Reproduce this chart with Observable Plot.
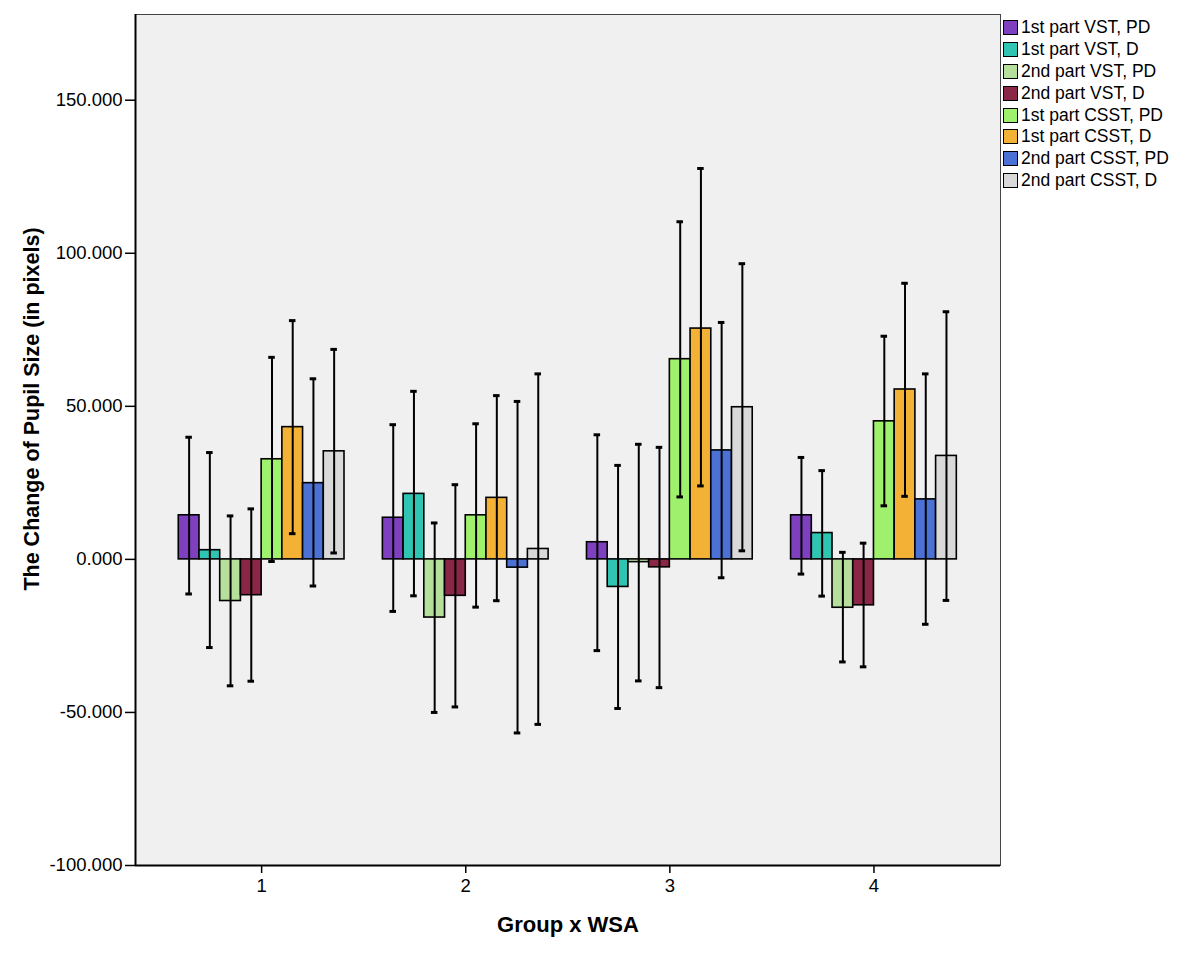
<!DOCTYPE html>
<html>
<head>
<meta charset="utf-8">
<script src="https://cdn.jsdelivr.net/npm/d3@7"></script>
<script src="https://cdn.jsdelivr.net/npm/@observablehq/plot@0.6"></script>
<style>
  html, body { margin: 0; padding: 0; background: #ffffff; }
  #wrap { position: relative; width: 1181px; height: 956px; font-family: "Liberation Sans", Arial, sans-serif; }
  #legend { position: absolute; left: 1003px; top: 17px; }
  .row { display: flex; align-items: center; height: 21.8px; font-size: 17.5px; color: #000; white-space: nowrap; }
  .sw { width: 13px; height: 13px; border: 1.5px solid #000; margin-right: 3px; flex: none; }
  #ytitle { position: absolute; left: 32px; top: 409px; transform: translate(-50%, -50%) rotate(-90deg); font-weight: bold; font-size: 21.5px; white-space: nowrap; }
  #xtitle { position: absolute; left: 568px; top: 925px; transform: translate(-50%, -50%); font-weight: bold; font-size: 22px; white-space: nowrap; }
  svg text { font-size: 18.5px; }
</style>
</head>
<body>
<div id="wrap"></div>
<script>
const groups = [1, 2, 3, 4];
const seriesNames = [
  "1st part VST, PD", "1st part VST, D", "2nd part VST, PD", "2nd part VST, D",
  "1st part CSST, PD", "1st part CSST, D", "2nd part CSST, PD", "2nd part CSST, D"
];
const seriesColors = ["#7e40bf", "#30c4b2", "#b6df9c", "#8a2646", "#9ff06c", "#f3b236", "#4b71d4", "#d9d9d9"];

// means per series, one value per group (1..4)
const means = [
  [14.4, 13.6, 5.6, 14.4],
  [3.0, 21.4, -9.0, 8.6],
  [-13.6, -19.0, -0.9, -15.8],
  [-11.7, -11.9, -2.6, -15.0],
  [32.7, 14.4, 65.4, 45.1],
  [43.2, 20.1, 75.4, 55.5],
  [24.9, -2.7, 35.6, 19.6],
  [35.3, 3.4, 49.7, 33.8]
];
const upper = [
  [39.9, 44.0, 40.7, 33.3],
  [34.9, 54.9, 30.7, 29.0],
  [14.2, 11.9, 37.6, 2.3],
  [16.5, 24.4, 36.6, 5.3],
  [66.0, 44.3, 110.3, 72.9],
  [78.0, 53.5, 127.7, 90.2],
  [59.0, 51.6, 77.4, 60.6],
  [68.6, 60.6, 96.6, 80.9]
];
const lower = [
  [-11.3, -17.0, -29.8, -4.8],
  [-28.8, -11.9, -48.7, -12.0],
  [-41.3, -50.0, -39.7, -33.5],
  [-39.8, -48.2, -41.9, -35.1],
  [-0.7, -15.6, 20.4, 17.5],
  [8.4, -13.5, 24.0, 20.6],
  [-8.7, -56.7, -6.0, -21.2],
  [2.1, -53.9, 2.8, -13.4]
];
const yTicks = [-100, -50, 0, 50, 100, 150];

// bar geometry within a group (in x-scale units)
const barW = 0.1015;
const capHalf = 0.016;
const n = seriesNames.length;

const data = [];
groups.forEach((g, gi) => {
  seriesNames.forEach((s, si) => {
    const x1 = g - (n * barW) / 2 + si * barW;
    data.push({
      group: g, series: s,
      x1, x2: x1 + barW, cx: x1 + barW / 2,
      mean: means[si][gi], hi: upper[si][gi], lo: lower[si][gi]
    });
  });
});

const chart = Plot.plot({
  width: 1181,
  height: 956,
  marginLeft: 135,
  marginRight: 181,
  marginTop: 14,
  marginBottom: 91,
  style: { fontFamily: "Liberation Sans, Arial, sans-serif", fontSize: "18.5px", color: "#000", background: "#ffffff" },
  x: { type: "linear", domain: [0.382, 4.62], label: null },
  y: { domain: [-100, 178], label: null },
  color: { domain: seriesNames, range: seriesColors },
  marks: [
    Plot.frame({ fill: "#f0f0f0", stroke: "#444", strokeWidth: 1 }),
    Plot.axisY({ ticks: yTicks, tickFormat: d => d.toFixed(3), tickSize: 10, tickPadding: 3, strokeWidth: 1.5, label: null }),
    Plot.axisX({ ticks: groups, tickFormat: d => String(d), tickSize: 8, tickPadding: 5, strokeWidth: 1.5, label: null }),
    Plot.rect(data, { x1: "x1", x2: "x2", y1: d => 0, y2: "mean", fill: "series", stroke: "#000", strokeWidth: 1.6 }),
    Plot.ruleX(data, { x: "cx", y1: "lo", y2: "hi", stroke: "#000", strokeWidth: 2 }),
    Plot.ruleY(data, { y: "hi", x1: d => d.cx - capHalf, x2: d => d.cx + capHalf, stroke: "#000", strokeWidth: 3 }),
    Plot.ruleY(data, { y: "lo", x1: d => d.cx - capHalf, x2: d => d.cx + capHalf, stroke: "#000", strokeWidth: 3 }),
    Plot.ruleX([0.382], { stroke: "#000", strokeWidth: 2 }),
    Plot.ruleY([-100], { stroke: "#000", strokeWidth: 2 })
  ]
});

const wrap = document.getElementById("wrap");
wrap.appendChild(chart);

const legend = document.createElement("div");
legend.id = "legend";
seriesNames.forEach((s, i) => {
  const row = document.createElement("div");
  row.className = "row";
  const sw = document.createElement("div");
  sw.className = "sw";
  sw.style.background = seriesColors[i];
  const t = document.createElement("span");
  t.textContent = s;
  row.appendChild(sw);
  row.appendChild(t);
  legend.appendChild(row);
});
wrap.appendChild(legend);

const yt = document.createElement("div");
yt.id = "ytitle";
yt.textContent = "The Change of Pupil Size (in pixels)";
wrap.appendChild(yt);

const xt = document.createElement("div");
xt.id = "xtitle";
xt.textContent = "Group x WSA";
wrap.appendChild(xt);
</script>
</body>
</html>
